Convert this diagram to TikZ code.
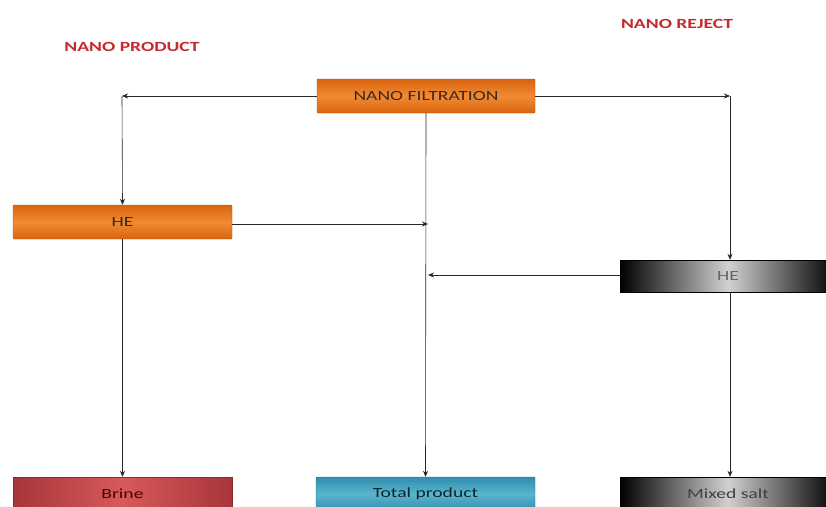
\documentclass[tikz,border=0pt]{standalone}
\usepackage{fontspec}
\usepackage{graphicx}
\setmainfont{Carlito}
\usetikzlibrary{arrows.meta}
\definecolor{lbl}{HTML}{C42A30}
\definecolor{txt}{HTML}{3A2A20}
\definecolor{orgD}{HTML}{D9640F}
\definecolor{orgL}{HTML}{F28A33}
\definecolor{redD}{HTML}{A8353A}
\definecolor{redL}{HTML}{D65A5A}
\definecolor{tealD}{HTML}{2F8FAE}
\definecolor{tealL}{HTML}{5BB3CC}
\newcommand{\wtxt}[1]{\scalebox{1.4}[1]{#1}}
\tikzset{
  box/.style={minimum height=34pt, inner sep=0pt, font=\fontsize{14}{16}\selectfont, text=txt},
  orangebox/.style={box, top color=orgD, bottom color=orgD, middle color=orgL, draw=orgD!80!black, line width=0.4pt, rounded corners=1pt},
  blackbox/.style={box, shading=axis, left color=black, right color=black, middle color=white!82!black, draw=black, line width=0.4pt, text=white!40!black},
  redbox/.style={box, shading=axis, left color=redD, right color=redD, middle color=redL, draw=redD!80!black, text=black!70!red},
  tealbox/.style={box, top color=tealD, bottom color=tealD, middle color=tealL, draw=tealD!80!black, rounded corners=1pt, text=black!75!tealD},
  lab/.style={font=\fontsize{14}{16}\selectfont\bfseries, text=lbl},
  arr/.style={-{Stealth[length=6pt,width=5pt]}, line width=0.6pt, draw=black!85},
}
\begin{document}
\begin{tikzpicture}[x=1pt,y=-1pt]
\useasboundingbox (0,0) rectangle (826,506);
\clip (0,0) rectangle (826,506);
\node[lab] (np) at (132,47) {\wtxt{NANO PRODUCT}};
\node[lab] (nr) at (677,24) {\wtxt{NANO REJECT}};
\node[orangebox, minimum width=218pt] (nf) at (426,96) {\wtxt{NANO FILTRATION}};
\node[orangebox, minimum width=219pt] (hel) at (122.5,222) {\wtxt{HE}};
\node[blackbox, minimum width=216pt, minimum height=32pt] (her) at (728,276) {\wtxt{HE}};
\node[redbox, minimum width=219pt] (br) at (122.5,494) {\wtxt{Brine}};
\node[tealbox, minimum width=219pt] (tp) at (425.5,494) {\wtxt{Total product}};
\node[blackbox, minimum width=216pt, text=black!75] (ms) at (728,494) {\wtxt{Mixed salt}};
\coordinate (cl) at (122,96);
\coordinate (cr) at (730,96);
\coordinate (ml) at (428,224);
\coordinate (mr) at (428,275);
\draw[arr] (nf.west) -- (cl);
\draw[arr] (cl) -- (hel.north);
\draw[arr] (nf.east) -- (cr);
\draw[arr] (cr) -- (her.north -| cr);
\draw[arr] (nf.south) -- (tp.north);
\draw[arr] (hel.east |- ml) -- (ml);
\draw[arr] (her.west |- mr) -- (mr);
\draw[arr] (hel.south) -- (br.north);
\draw[arr] (her.south -| cr) -- (ms.north -| cr);
\end{tikzpicture}
\end{document}
